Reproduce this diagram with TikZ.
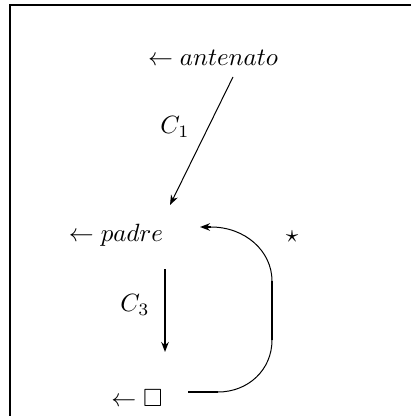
\documentclass[tikz,border=0pt]{standalone}
\usepackage{amssymb}
\usetikzlibrary{arrows.meta, positioning}
\begin{document}
\begin{tikzpicture}[
    x=0.01408cm, y=-0.01408cm,
    >=Stealth,
    % Styles for entries and lines
    entry/.style={inner sep=1pt, anchor=center},
    thinline/.style={line width=0.4pt},
    thickline/.style={line width=1.1pt},
    tip/.style={-{Stealth[length=4pt, width=3pt]}}
]
    \useasboundingbox (0,0) rectangle (411,416);

    % Frame, cut by the page
    \draw[line width=0.5pt] (411,5) -- (10,5) -- (10,416);

    % Entries
    \node (antenato) [entry] at (213,58) {$\leftarrow antenato$};
    \node (padre) [entry] at (116,235) {$\leftarrow padre$};
    \node (hole) [entry] at (137,398) {$\leftarrow \square$};
    \node (star) [entry] at (292,237) {$\star$};

    % Arrow ends
    \coordinate (c1s) at (233,77);
    \coordinate (c1e) at (170,205);
    \coordinate (c3s) at (165,269);
    \coordinate (c3e) at (165,352);
    \coordinate (b0) at (188,392);
    \coordinate (b1) at (218,392);
    \coordinate (r0) at (272,340);
    \coordinate (r1) at (272,281);
    \coordinate (t0) at (211,227);
    \coordinate (t1) at (200,227);

    % Labels
    \node (lc1) [entry] at (175,127) {$C_1$};
    \node (lc3) [entry] at (135,305) {$C_3$};

    % Arrows
    \draw [thinline, tip] (c1s) -- (c1e);
    \draw [thickline, tip] (c3s) -- (c3e);

    % Loop back to padre
    \draw [thickline] (b0) -- (b1);
    \draw [thinline] (b1) .. controls (248,392) and (272,370) .. (r0);
    \draw [thickline] (r0) -- (r1);
    \draw [thinline] (r1) .. controls (272,251) and (245,227) .. (t0);
    \draw [thickline, tip] (t0) -- (t1);
\end{tikzpicture}
\end{document}
